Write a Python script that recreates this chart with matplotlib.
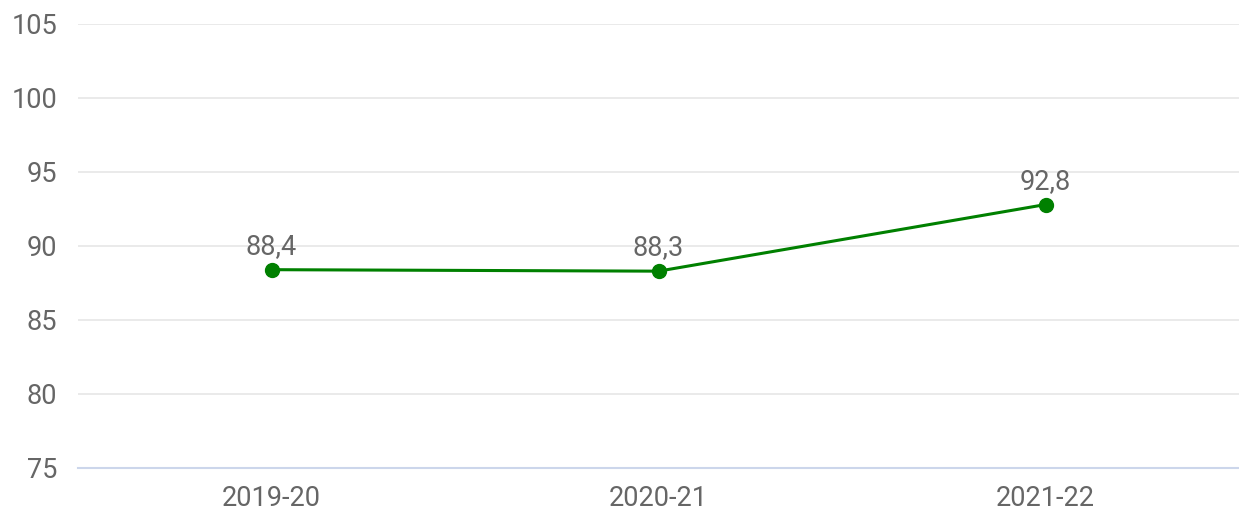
import matplotlib.pyplot as plt

# Datos del gráfico
periodos = ['2019-20', '2020-21', '2021-22']
valores = [88.4, 88.3, 92.8]
ticks_y = [75, 80, 85, 90, 95, 100, 105]

plt.rcParams['font.family'] = ['Roboto', 'DejaVu Sans']

fig = plt.figure(figsize=(12.39, 5.14), dpi=100)
ax = fig.add_axes([78 / 1239, 1 - 468 / 514, 1 - 78 / 1239, (468 - 24) / 514])

x = list(range(len(periodos)))
ax.plot(x, valores, color='#008000', linewidth=2.2, marker='o', markersize=10, zorder=3)

# Etiquetas de datos con coma decimal
for xi, v in zip(x, valores):
    ax.annotate(f'{v:.1f}'.replace('.', ','), (xi, v), xytext=(0, 11.5),
                textcoords='offset points', ha='center', va='baseline',
                fontsize=19.5, color='#666666', zorder=4)

ax.set_xlim(-0.5, len(periodos) - 0.5)
ax.set_ylim(75, 105)
ax.set_yticks(ticks_y)
ax.set_xticks(x)
ax.set_xticklabels(periodos)

ax.grid(axis='y', color='#e6e6e6', linewidth=1.2)
ax.set_axisbelow(True)
for lado in ['top', 'right', 'left']:
    ax.spines[lado].set_visible(False)
ax.spines['bottom'].set_color('#ccd6eb')
ax.spines['bottom'].set_linewidth(1.5)

ax.tick_params(axis='both', length=0, labelsize=19.5, labelcolor='#666666')
ax.tick_params(axis='y', pad=15)
ax.tick_params(axis='x', pad=12)

fig.savefig('out.png', dpi=100, facecolor='white')
